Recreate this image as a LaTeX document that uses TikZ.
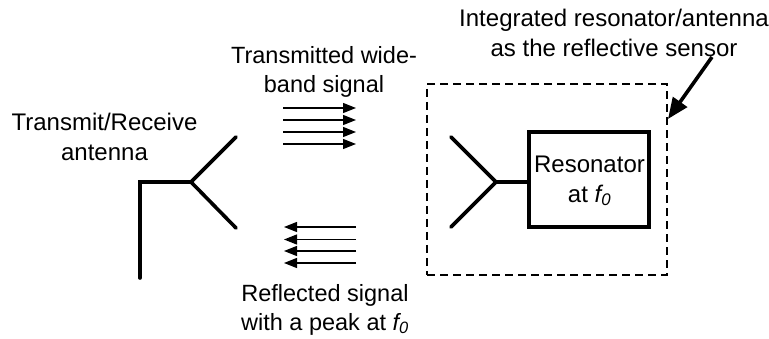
\documentclass[tikz,border=0pt]{standalone}
\usepackage{fontspec}
\setmainfont{Liberation Sans}
\usetikzlibrary{arrows.meta}
\tikzset{
  px/.style={x=1pt,y=-1pt},
  thick line/.style={line width=3.6pt,line cap=round,line join=miter},
  sig/.style={line width=1.4pt,-{Triangle[length=13pt,width=10pt]}},
  lab/.style={font=\fontsize{23.5}{29}\selectfont,align=center,inner sep=0pt},
  labbig/.style={font=\fontsize{24}{29.5}\selectfont,align=center,inner sep=0pt},
}
\begin{document}
\begin{tikzpicture}[px]
\useasboundingbox (0,0) rectangle (769,339);
\fill[white] (0,0) rectangle (769,339);
% left antenna
\coordinate (la0) at (140,278);
\coordinate (la1) at (140,182);
\coordinate (la2) at (191,182);
\coordinate (la3) at (236,137);
\coordinate (la4) at (236,228);
\draw[thick line] (la0) -- (la1) -- (la2);
\draw[thick line] (la3) -- (la2) -- (la4);
% arrows
\foreach \y/\n in {108/a,120/b,132/c,144/d}{
  \coordinate (s\n) at (283,\y); \coordinate (e\n) at (356,\y);
  \draw[sig] (s\n) -- (e\n);
}
\foreach \y/\n in {227/a,239.5/b,251/c,263/d}{
  \coordinate (s\n) at (356,\y); \coordinate (e\n) at (284,\y);
  \draw[sig] (s\n) -- (e\n);
}
% dashed box
\node[draw,dash pattern=on 8pt off 5pt,line width=1.2pt,minimum width=240pt,minimum height=191pt,inner sep=0pt,outer sep=0pt,anchor=north west] (sensor) at (427,84) {};
% resonator
\node[draw,line width=3.6pt,minimum width=120pt,minimum height=95pt,inner sep=0pt,outer sep=0pt,anchor=north west] (res) at (529,132) {};
\node[labbig] (reslab) at (589.5,181) {Resonator\\at \textit{f\textsubscript{0}}};
% right antenna
\coordinate (ra1) at (496,182);
\coordinate (ra2) at (451,137);
\coordinate (ra3) at (451,227);
\draw[thick line] (ra2) -- (ra1) -- (ra3);
\draw[thick line] (ra1) -- (ra1 -| res.west);
% labels
\node[labbig] (l1) at (104.5,137) {Transmit/Receive\\antenna};
\node[lab] (l2) at (324,71.5) {Transmitted wide-\\band signal};
\node[lab] (l3) at (325,309.5) {Reflected signal\\with a peak at \textit{f\textsubscript{0}}};
\node[labbig] (l4) at (614,33) {Integrated resonator/antenna\\as the reflective sensor};
% pointer
\coordinate (p0) at (712,57);
\coordinate (p1) at (668,119);
\draw[line width=3.6pt,-{Triangle[length=21pt,width=17pt]}] (p0) -- (p1);
\end{tikzpicture}
\end{document}
